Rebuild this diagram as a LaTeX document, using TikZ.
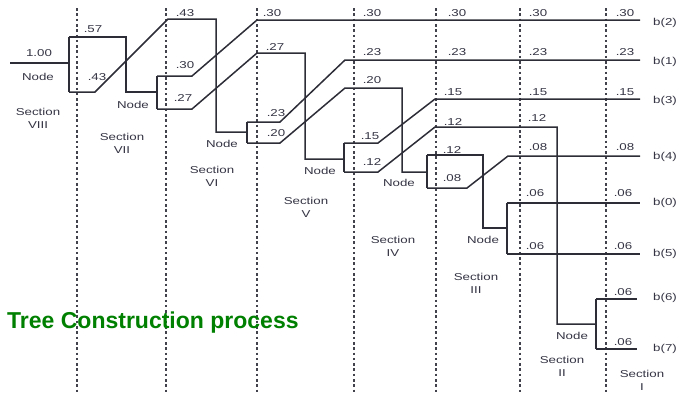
\documentclass[tikz,border=0pt]{standalone}
\usepackage{fontspec}
\setmainfont{Liberation Sans}
\definecolor{tcline}{RGB}{45,45,56}
\definecolor{tctext}{RGB}{52,52,68}
\definecolor{tcgreen}{RGB}{0,128,0}

\begin{document}
\begin{tikzpicture}[x=1pt, y=-1pt, font=\fontsize{10}{13}\selectfont,
          br/.style ={draw=tcline, line width=1.5pt},
          sec/.style={draw=tcline!90, line width=2pt, dash pattern=on 2.6pt off 2.7pt},
          lb/.style ={text=tctext, inner sep=0pt, xscale=1.33, align=center},
          ttl/.style={text=tcgreen, inner sep=0pt,
                      font=\fontsize{23}{27}\selectfont\bfseries}]
        \useasboundingbox (0,0) rectangle (677,392);
        % section borders
        \foreach \sx in {77,166,257,354,436,520,606}
          \draw[sec] (\sx,8) -- (\sx,392);
        % junctions
        \coordinate (r0)  at (10,63);
        \coordinate (n8)  at (69,63);  \coordinate (n8t) at (69,37);  \coordinate (n8b) at (69,92);
        \coordinate (n7)  at (157,92); \coordinate (n7t) at (157,76); \coordinate (n7b) at (157,109);
        \coordinate (n6)  at (247,132);\coordinate (n6t) at (247,122);\coordinate (n6b) at (247,143);
        \coordinate (n5)  at (344,159);\coordinate (n5t) at (344,143);\coordinate (n5b) at (344,172);
        \coordinate (n4)  at (427,172);\coordinate (n4t) at (427,155);\coordinate (n4b) at (427,188);
        \coordinate (n3)  at (507,228);\coordinate (n3t) at (507,203);\coordinate (n3b) at (507,254);
        \coordinate (n2)  at (596,324);\coordinate (n2t) at (596,299);\coordinate (n2b) at (596,349);
        % leaf ends
        \coordinate (e2) at (640,20);  \coordinate (e1) at (640,60);
        \coordinate (e3) at (640,99);  \coordinate (e4) at (640,156);
        \coordinate (e0) at (640,203); \coordinate (e5) at (640,254);
        \coordinate (e6) at (637,299); \coordinate (e7) at (637,349);
        % branches
        \draw[br] (r0) -- (n8);
        \draw[br] (n8t) -- (n8b);
        \draw[br] (n8t) -- ++(57,0) |- (n7);
        \draw[br] (n8b) -- ++(26,0) -- ++(73,-73) -- ++(48,0) |- (n6);
        \draw[br] (n7t) -- (n7b);
        \draw[br] (n7t) -- ++(35,0) -- ++(65,-56) -- (e2);
        \draw[br] (n7b) -- ++(35,0) -- ++(65,-56) -- ++(48,0) |- (n5);
        \draw[br] (n6t) -- (n6b);
        \draw[br] (n6t) -- ++(33,0) -- ++(65,-62) -- (e1);
        \draw[br] (n6b) -- ++(33,0) -- ++(65,-55) -- ++(57,0) |- (n4);
        \draw[br] (n5t) -- (n5b);
        \draw[br] (n5t) -- ++(34,0) -- ++(57,-44) -- (e3);
        \draw[br] (n5b) -- ++(34,0) -- ++(57,-45) -- ++(122,0) |- (n2);
        \draw[br] (n4t) -- (n4b);
        \draw[br] (n4t) -- ++(56,0) |- (n3);
        \draw[br] (n4b) -- ++(40,0) -- ++(41,-32) -- (e4);
        \draw[br] (n3t) -- (n3b); \draw[br] (n3t) -- (e0); \draw[br] (n3b) -- (e5);
        \draw[br] (n2t) -- (n2b); \draw[br] (n2t) -- (e6); \draw[br] (n2b) -- (e7);
        % node labels
        \node[lb] (l8) at (38,77)   {Node};
        \node[lb] (l7) at (133,105) {Node};
        \node[lb] (l6) at (222,144) {Node};
        \node[lb] (l5) at (320,171) {Node};
        \node[lb] (l4) at (399,183) {Node};
        \node[lb] (l3) at (483,240) {Node};
        \node[lb] (l2) at (572,336) {Node};
        % section labels
        \node[lb] (sec8) at (38,118.5)  {Section\\VIII};
        \node[lb] (sec7) at (122,143.5) {Section\\VII};
        \node[lb] (sec6) at (212,176)   {Section\\VI};
        \node[lb] (sec5) at (306,207)   {Section\\V};
        \node[lb] (sec4) at (393,246)   {Section\\IV};
        \node[lb] (sec3) at (476,283)   {Section\\III};
        \node[lb] (sec2) at (562,366)   {Section\\II};
        \node[lb] (sec1) at (642,380.5) {Section\\I};
        % probabilities
        \node[lb] (s8a) at (39,53)  {1.00};
        \node[lb] (s7a) at (93,29)  {.57};
        \node[lb] (s7b) at (97,77)  {.43};
        \node[lb] (s6a) at (185,13) {.43};
        \node[lb] (s6b) at (185,65) {.30};
        \node[lb] (s6c) at (183,98) {.27};
        \node[lb] (s5a) at (272,13)  {.30};
        \node[lb] (s5b) at (275,47)  {.27};
        \node[lb] (s5c) at (276,113) {.23};
        \node[lb] (s5d) at (276,133) {.20};
        \node[lb] (s4a) at (372,13)  {.30};
        \node[lb] (s4b) at (372,52)  {.23};
        \node[lb] (s4c) at (372,80)  {.20};
        \node[lb] (s4d) at (370,136) {.15};
        \node[lb] (s4e) at (372,162) {.12};
        \node[lb] (s3a) at (457,13)  {.30};
        \node[lb] (s3b) at (457,52)  {.23};
        \node[lb] (s3c) at (453,92)  {.15};
        \node[lb] (s3d) at (453,122) {.12};
        \node[lb] (s3e) at (452,150) {.12};
        \node[lb] (s3f) at (452,178) {.08};
        \node[lb] (s2a) at (538,13)  {.30};
        \node[lb] (s2b) at (538,52)  {.23};
        \node[lb] (s2c) at (538,92)  {.15};
        \node[lb] (s2d) at (537,118) {.12};
        \node[lb] (s2e) at (538,147) {.08};
        \node[lb] (s2f) at (535,193) {.06};
        \node[lb] (s2g) at (535,246) {.06};
        \node[lb] (s1a) at (625,13)  {.30};
        \node[lb] (s1b) at (625,52)  {.23};
        \node[lb] (s1c) at (625,92)  {.15};
        \node[lb] (s1d) at (625,147) {.08};
        \node[lb] (s1e) at (623,193) {.06};
        \node[lb] (s1f) at (623,246) {.06};
        \node[lb] (s1g) at (623,292) {.06};
        \node[lb] (s1h) at (623,342) {.06};
        % symbols
        \node[lb] (b2) at (665,23)  {b(2)};
        \node[lb] (b1) at (665,62)  {b(1)};
        \node[lb] (b3) at (665,101) {b(3)};
        \node[lb] (b4) at (665,157) {b(4)};
        \node[lb] (b0) at (665,203) {b(0)};
        \node[lb] (b5) at (665,254) {b(5)};
        \node[lb] (b6) at (665,298) {b(6)};
        \node[lb] (b7) at (665,349) {b(7)};
        \node[ttl, anchor=base west] (title) at (7,328) {Tree Construction process};
      \end{tikzpicture}
\end{document}
